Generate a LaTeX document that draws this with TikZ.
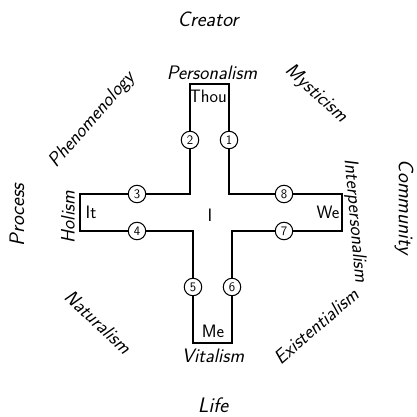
\documentclass[tikz,border=0pt]{standalone}
\usepackage{fontspec}
\usepackage{tikz}
\usetikzlibrary{positioning}

\tikzset{
  pole/.style={font=\sffamily\itshape\fontsize{21}{23}\selectfont},
  school/.style={font=\sffamily\itshape\fontsize{19.5}{21}\selectfont, inner sep=1pt},
  person/.style={font=\sffamily\fontsize{18}{20}\selectfont, inner sep=1pt},
  num/.style={draw, circle, fill=white, line width=1pt, minimum size=17.5pt, inner sep=0pt, font=\sffamily\fontsize{13}{13}\selectfont},
  arm/.style={line width=1.7pt, line join=miter}
}

\begin{document}
\begin{tikzpicture}[x=1pt, y=-1pt]
  \useasboundingbox (0,0) rectangle (416,417);

  % Cross
  \draw[arm] (190,194) -- (190,84) -- (229,84) -- (229,194) -- (342,194) -- (342,231)
    -- (232,231) -- (232,343) -- (193,343) -- (193,231) -- (80,231) -- (80,194) -- cycle;

  % Persons
  \node[person] (thou) at (208,96) {Thou};
  \node[person] (it) at (91,212) {It};
  \node[person] (i) at (210,215) {I};
  \node[person] (we) at (328,212) {We};
  \node[person] (me) at (213,331) {Me};

  % Numbered stations
  \node[num] (n1) at (229,140) {1};
  \node[num] (n2) at (190,140) {2};
  \node[num] (n3) at (137,194) {3};
  \node[num] (n4) at (137,231) {4};
  \node[num] (n5) at (193,287) {5};
  \node[num] (n6) at (232,287) {6};
  \node[num] (n7) at (284,231) {7};
  \node[num] (n8) at (284,194) {8};

  % Schools
  \node[school] (personalism) at (212,73) {Personalism};
  \node[school] (vitalism) at (213,356) {Vitalism};
  \node[school, rotate=90] (holism) at (68,217) {Holism};
  \node[school, rotate=-85] (interpersonalism) at (355,221) {Interpersonalism};
  \node[school, rotate=49] (phenomenology) at (92,120) {Phenomenology};
  \node[school, rotate=-42] (mysticism) at (316,94) {Mysticism};
  \node[school, rotate=-43] (naturalism) at (98,322) {Naturalism};
  \node[school, rotate=41] (existentialism) at (316,326) {Existentialism};

  % Poles
  \node[pole] (creator) at (208,19) {Creator};
  \node[pole] (life) at (213,405) {Life};
  \node[pole, rotate=90] (process) at (17,215) {Process};
  \node[pole, rotate=-90] (community) at (404,207) {Community};
\end{tikzpicture}
\end{document}
